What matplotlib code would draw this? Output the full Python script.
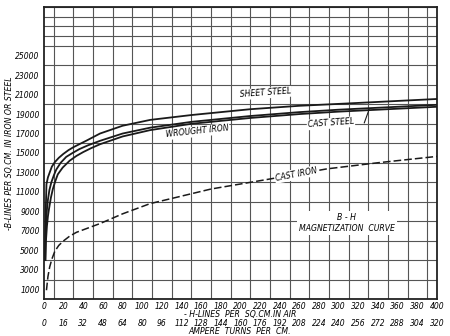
import matplotlib
matplotlib.use("Agg")
import matplotlib.pyplot as plt
import matplotlib.transforms as mtransforms
import numpy as np

# H in lines per sq. cm in air, B in lines per sq. cm in iron or steel
sheet_h = [1.0, 1.5, 2.5, 4.0, 5.8, 8.0, 11, 15, 19.6, 25, 30, 43, 57, 80, 108, 150, 210, 260, 311, 360, 400]
sheet_b = [4000, 8000, 11800, 12500, 13000, 13600, 14060, 14500, 14900, 15300, 15600, 16260, 17000, 17800, 18400, 18900, 19500, 19850, 20100, 20350, 20550]

wrought_h = [1.2, 1.6, 2.2, 3.0, 4.0, 5.5, 7.5, 10, 12.5, 17, 22.6, 29, 36, 45, 57, 80, 108, 150, 210, 260, 300, 350, 400]
wrought_b = [4000, 6500, 8000, 9200, 10200, 11200, 12000, 12700, 13300, 14000, 14600, 15000, 15400, 15800, 16250, 17000, 17600, 18200, 18800, 19200, 19450, 19700, 19950]

caststeel_h = [1.5, 2.0, 3.0, 4.0, 5.0, 7.0, 9.0, 11.5, 14, 19, 26, 33, 40, 48, 57, 80, 108, 150, 210, 260, 300, 350, 400]
caststeel_b = [4000, 6000, 7500, 8500, 9200, 10400, 11300, 12100, 12800, 13500, 14200, 14700, 15100, 15500, 15900, 16700, 17350, 18000, 18600, 19000, 19250, 19500, 19750]

castiron_h = [2.5, 4.0, 5.8, 8.0, 11, 15, 19.6, 26, 33, 45, 57, 80, 108, 135, 170, 230, 288, 340, 400]
castiron_b = [900, 2300, 3300, 4100, 4900, 5500, 5950, 6450, 6850, 7300, 7750, 8750, 9800, 10450, 11300, 12330, 13370, 14000, 14650]

y_ticks = list(range(1000, 26000, 2000))
h_ticks = list(range(0, 401, 20))
at_ticks = list(range(0, 321, 16))

# H = 1.25 x ampere turns per cm
H_PER_AT = 1.25

ital = dict(family="DejaVu Sans", style="italic")
TICK_FS = 5.5
LABEL_FS = 5.6

fig = plt.figure(figsize=(4.5, 3.36), dpi=100)
ax = fig.add_axes([44 / 450, 1 - 299 / 336, (437 - 44) / 450, (299 - 7) / 336])

ax.set_xlim(0, 400)
ax.set_ylim(0, 30000)

# fine ruled grid
ax.set_xticks(np.arange(0, 401, 10), minor=True)
ax.set_yticks(np.arange(0, 30001, 1000), minor=True)
ax.grid(which="minor", color="#555555", lw=0.8)
ax.tick_params(which="minor", length=0)
ax.set_axisbelow(True)

ax.set_xticks(h_ticks)
ax.set_xticklabels([str(v) for v in h_ticks], fontsize=TICK_FS, **ital)
ax.set_yticks(y_ticks)
ax.set_yticklabels([str(v) for v in y_ticks], fontsize=TICK_FS, **ital)
ax.tick_params(which="major", length=0, pad=3)
ax.tick_params(axis="x", pad=2.5)

for s in ax.spines.values():
    s.set_linewidth(1.3)
    s.set_color("#222222")

# curves
ax.plot(sheet_h, sheet_b, color="#1a1a1a", lw=1.3, zorder=3)
ax.plot(wrought_h, wrought_b, color="#1a1a1a", lw=1.3, zorder=3)
ax.plot(caststeel_h, caststeel_b, color="#1a1a1a", lw=1.3, zorder=3)
ax.plot(castiron_h, castiron_b, color="#1a1a1a", lw=1.1, ls=(0, (5, 2)), zorder=3)

box = dict(facecolor="white", edgecolor="none", pad=0.6)
ax.text(225, 21150, "SHEET STEEL", fontsize=LABEL_FS, rotation=4, ha="center", va="center", bbox=box, zorder=4, **ital)
ax.text(156, 17200, "WROUGHT IRON", fontsize=LABEL_FS, rotation=6, ha="center", va="center", bbox=box, zorder=4, **ital)
ax.text(292, 18050, "CAST STEEL", fontsize=LABEL_FS, rotation=4, ha="center", va="center", bbox=box, zorder=4, **ital)
ax.plot([326, 331], [18100, 19500], color="#1a1a1a", lw=0.8, zorder=4)
ax.text(257, 12800, "CAST IRON", fontsize=LABEL_FS, rotation=11, ha="center", va="center", bbox=box, zorder=4, **ital)
ax.text(308, 7800, "B - H\nMAGNETIZATION  CURVE", fontsize=LABEL_FS, ha="center", va="center",
        linespacing=1.3, bbox=dict(facecolor="white", edgecolor="none", pad=1.5), zorder=4, **ital)

# ampere turns per cm scale, second row beneath the H scale
row2 = mtransforms.blended_transform_factory(ax.transData, ax.transAxes)
row2 = row2 + mtransforms.ScaledTranslation(0, -24 / 100, fig.dpi_scale_trans)
for a in at_ticks:
    ax.text(a * H_PER_AT, 0, str(a), transform=row2, fontsize=TICK_FS, ha="center", va="center", **ital)

ax.set_ylabel("-B-LINES PER SQ.CM. IN IRON OR STEEL", fontsize=LABEL_FS, labelpad=1, **ital)
fig.text(240 / 450, 1 - 315 / 336, "- H-LINES  PER  SQ.CM.IN AIR", fontsize=LABEL_FS, ha="center", va="center", **ital)
fig.text(240 / 450, 1 - 331 / 336, "AMPERE  TURNS  PER  CM.", fontsize=LABEL_FS, ha="center", va="center", **ital)

fig.savefig("out.png", dpi=100, facecolor="white")
